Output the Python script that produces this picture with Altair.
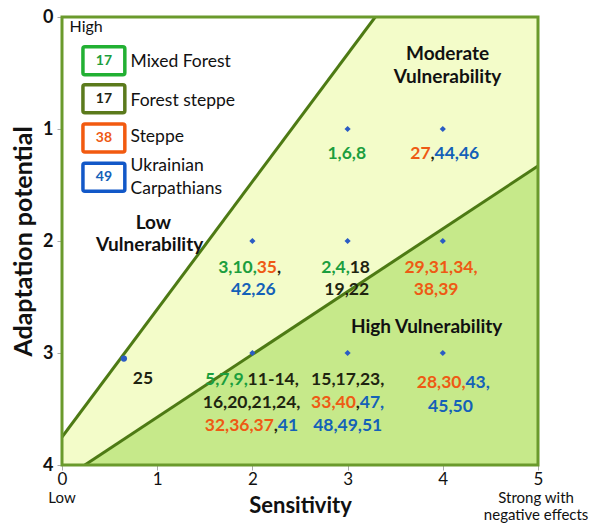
import altair as alt
import pandas as pd
import numpy as np

FONT = "Lato"

# ---- data ----
# boundary lines (sensitivity, adaptation potential)
upper_x = [0.0, 3.29]
upper_y = [3.75, 0.0]
lower_x = [0.24, 5.0]
lower_y = [4.0, 1.33]

# station markers
pt_x = [3, 4, 2, 3, 4, 2, 3, 4]
pt_y = [1, 1, 2, 2, 2, 3, 3, 3]
pt25_x = [0.65]
pt25_y = [3.05]

# label lines: centre (x, y)
line_x = [2.99, 4.02, 1.97, 2.01, 2.98, 2.99, 3.98, 3.93, 0.85,
          1.99, 1.99, 1.99, 3.0, 3.0, 3.0, 4.11, 4.08]
line_y = [1.22, 1.22, 2.24, 2.44, 2.24, 2.44, 2.24, 2.44, 3.23,
          3.24, 3.45, 3.65, 3.24, 3.45, 3.65, 3.27, 3.48]
# coloured segments of each label line
seg_line = [0, 1, 1, 1, 2, 2, 2, 3, 4, 4, 5, 6, 7, 8,
            9, 9, 10, 11, 11, 11, 12, 13, 13, 13, 14, 15, 15, 16]
seg_text = ["1,6,8", "27", ",", "44,46",
            "3,10,", "35", ",", "42,26",
            "2,4,", "18", "19,22",
            "29,31,34,", "38,39",
            "25",
            "5,7,9,", "11-14,", "16,20,21,24,", "32,36,37", ",", "41",
            "15,17,23,", "33,40", ",", "47,", "48,49,51",
            "28,30,", "43,", "45,50"]
seg_grp = ["Mixed Forest", "Steppe", "Forest steppe", "Ukrainian Carpathians",
           "Mixed Forest", "Steppe", "Forest steppe", "Ukrainian Carpathians",
           "Mixed Forest", "Forest steppe", "Forest steppe",
           "Steppe", "Steppe",
           "Forest steppe",
           "Mixed Forest", "Forest steppe", "Forest steppe", "Steppe", "Forest steppe",
           "Ukrainian Carpathians",
           "Forest steppe", "Steppe", "Forest steppe", "Ukrainian Carpathians",
           "Ukrainian Carpathians",
           "Steppe", "Ukrainian Carpathians", "Ukrainian Carpathians"]

# region names
reg_text = ["Moderate", "Vulnerability", "Low", "Vulnerability", "High Vulnerability"]
reg_x = [4.05, 4.05, 0.96, 0.92, 3.83]
reg_y = [0.33, 0.54, 1.84, 2.04, 2.77]

# legend
leg_groups = ["Mixed Forest", "Forest steppe", "Steppe", "Ukrainian Carpathians"]
leg_nums = ["17", "17", "38", "49"]
leg_y = [0.39, 0.73, 1.08, 1.43]
leg_lab = ["Mixed Forest", "Forest steppe", "Steppe", "Ukrainian", "Carpathians"]
leg_lab_y = [0.40, 0.75, 1.07, 1.33, 1.54]

text_colors = ["#1b9e3e", "#1e2410", "#ee5a14", "#1461b8"]
box_colors = ["#22b033", "#5b7a1c", "#f25a10", "#1258c8"]

# ---- layout helpers ----
W, H = 476, 448
PX_PER_X = W / 5.0
SEG_SIZE = 17.5
CHAR_EM = {",": 0.23, "-": 0.32}


def text_w(s):
    return sum(CHAR_EM.get(c, 0.58) for c in s) * SEG_SIZE


# ---- derived tables ----
bx = np.array(sorted(set([0.0, lower_x[0], upper_x[1], 5.0])))
band = pd.DataFrame({
    "x": bx,
    "top": np.clip(np.interp(bx, upper_x, upper_y, right=0.0), 0, 4),
    "bot": np.clip(np.interp(bx, lower_x, lower_y, left=4.0), 0, 4),
})
hx = np.array([lower_x[0], lower_x[1]])
high = pd.DataFrame({"x": hx, "top": np.interp(hx, lower_x, lower_y), "bot": [4.0, 4.0]})
lines = pd.DataFrame({"x": upper_x + lower_x, "y": upper_y + lower_y,
                      "id": ["u", "u", "l", "l"]})
pts = pd.DataFrame({"x": pt_x, "y": pt_y})
pt25 = pd.DataFrame({"x": pt25_x, "y": pt25_y})

rows = []
line_total = {}
for li, t in zip(seg_line, seg_text):
    line_total[li] = line_total.get(li, 0) + text_w(t)
acc = {}
for li, t, g in zip(seg_line, seg_text, seg_grp):
    start = line_x[li] - line_total[li] / 2 / PX_PER_X
    off = acc.get(li, 0.0)
    rows.append({"t": t, "g": g, "x": start + off / PX_PER_X, "y": line_y[li]})
    acc[li] = off + text_w(t)
segs = pd.DataFrame(rows)

regs = pd.DataFrame({"t": reg_text, "x": reg_x, "y": reg_y})
legbox = pd.DataFrame({"g": leg_groups, "n": leg_nums, "y": leg_y, "x": [0.44] * 4})
legbox["x1"] = legbox["x"] - 0.22
legbox["x2"] = legbox["x"] + 0.22
legbox["y1"] = legbox["y"] - 0.125
legbox["y2"] = legbox["y"] + 0.125
leglab = pd.DataFrame({"t": leg_lab, "x": [0.72] * 5, "y": leg_lab_y})
frame = pd.DataFrame({"x": [0.0], "x2": [5.0], "y": [0.0], "y2": [4.0]})
extra_c = pd.DataFrame({"t": ["Low", "Strong with", "negative effects"],
                        "x": [0.0, 4.98, 4.98], "y": [4.295, 4.295, 4.445]})
extra_l = pd.DataFrame({"t": ["High"], "x": [0.08], "y": [0.09]})

# ---- scales / axes ----
xs = alt.Scale(domain=[0, 5], nice=False, zero=False)
ys = alt.Scale(domain=[0, 4], reverse=True, nice=False, zero=False)
xax = alt.Axis(values=[0, 1, 2, 3, 4, 5], title="Sensitivity", grid=False, domain=False,
               labelFontSize=17, labelColor="#111", labelFont=FONT, labelPadding=1,
               tickColor="#aaa", tickSize=5, titleFont=FONT, titleFontSize=22,
               titleFontWeight="bold", titleColor="#111", titlePadding=8, labelFlush=False)
yax = alt.Axis(values=[0, 1, 2, 3, 4], title="Adaptation potential", grid=False, domain=False,
               labelFontSize=18, labelFontWeight="bold", labelColor="#111", labelFont=FONT,
               labelPadding=4, tickColor="#aaa", tickSize=5, titleFont=FONT, titleFontSize=25,
               titleFontWeight="bold", titleColor="#111", titlePadding=6, labelFlush=False)


def X(f="x"):
    return alt.X(f"{f}:Q", scale=xs, axis=xax)


def Y(f="y"):
    return alt.Y(f"{f}:Q", scale=ys, axis=yax)


tcol = alt.Color("g:N", scale=alt.Scale(domain=leg_groups, range=text_colors), legend=None)
bcol = alt.Stroke("g:N", scale=alt.Scale(domain=leg_groups, range=box_colors), legend=None)

band_l = alt.Chart(band).mark_area(color="#f3fcc9", opacity=1).encode(
    x=X(), y=Y("top"), y2="bot:Q")
high_l = alt.Chart(high).mark_area(color="#c6e98a", opacity=1).encode(
    x=X(), y=Y("top"), y2="bot:Q")
line_l = alt.Chart(lines).mark_line(color="#4d7a14", strokeWidth=3, clip=True).encode(
    x=X(), y=Y(), detail="id:N")
frame_l = alt.Chart(frame).mark_rect(fillOpacity=0, stroke="#6a9a2c", strokeWidth=3).encode(
    x=X(), x2="x2:Q", y=Y(), y2="y2:Q")
pts_l = alt.Chart(pts).mark_point(shape="diamond", filled=True, size=38, color="#2a5cc4",
                                  opacity=1).encode(x=X(), y=Y())
pt25_l = alt.Chart(pt25).mark_point(shape="circle", filled=True, size=40, color="#2a5cc4",
                                    opacity=1).encode(x=X(), y=Y())
seg_l = alt.Chart(segs).mark_text(align="left", baseline="middle", font=FONT, fontSize=SEG_SIZE,
                                  fontWeight="bold").encode(x=X(), y=Y(), text="t:N", color=tcol)
reg_l = alt.Chart(regs).mark_text(align="center", baseline="middle", font=FONT, fontSize=19,
                                  fontWeight="bold", color="#111").encode(x=X(), y=Y(), text="t:N")
box_l = alt.Chart(legbox).mark_rect(fill="white", strokeWidth=3.5, cornerRadius=2).encode(
    x=X("x1"), x2="x2:Q", y=Y("y1"), y2="y2:Q", stroke=bcol)
boxn_l = alt.Chart(legbox).mark_text(align="center", baseline="middle", font=FONT, fontSize=14,
                                     fontWeight="bold").encode(x=X(), y=Y(), text="n:N", color=tcol)
leglab_l = alt.Chart(leglab).mark_text(align="left", baseline="middle", font=FONT, fontSize=17.5,
                                       color="#111").encode(x=X(), y=Y(), text="t:N")
ext_c = alt.Chart(extra_c).mark_text(align="center", baseline="middle", font=FONT,
                                     fontSize=15, color="#111").encode(x=X(), y=Y(), text="t:N")
ext_l = alt.Chart(extra_l).mark_text(align="left", baseline="middle", font=FONT,
                                     fontSize=16, color="#111").encode(x=X(), y=Y(), text="t:N")

chart = alt.layer(band_l, high_l, line_l, frame_l, pts_l, pt25_l, seg_l, reg_l,
                  box_l, boxn_l, leglab_l, ext_c, ext_l).properties(
    width=W, height=H, autosize="none",
    padding={"left": 54, "top": 9, "right": 59, "bottom": 58},
).configure_view(stroke=None).configure(background="white")

chart.save("out.html", embed_options={"renderer": "svg", "actions": False})
